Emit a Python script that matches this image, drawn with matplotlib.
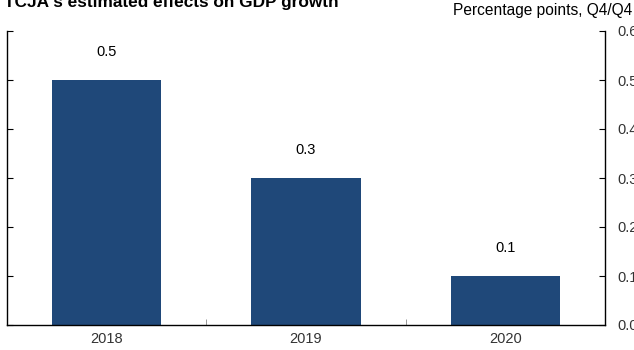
import matplotlib.pyplot as plt
import numpy as np

plt.rcParams['font.family'] = ['Liberation Sans', 'DejaVu Sans']

years = ['2018', '2019', '2020']
effects = [0.5, 0.3, 0.1]
y_ticks = [0.0, 0.1, 0.2, 0.3, 0.4, 0.5, 0.6]

bar_color = '#1f4879'
text_color = '#333333'

fig = plt.figure(figsize=(6.34, 3.5), dpi=100)
ax = fig.add_axes([7 / 634, 25 / 350, 598 / 634, 294 / 350])

x = np.arange(len(years))
bars = ax.bar(x, effects, width=0.55, color=bar_color, zorder=2)

for xi, v in zip(x, effects):
    ax.annotate(f'{v:.1f}', (xi, v), xytext=(0, 20), textcoords='offset points',
                ha='center', va='center', fontsize=10.5, color='black')

ax.set_xlim(-0.5, 2.5)
ax.set_ylim(0, 0.6)

# category labels at centres, small ticks between categories
ax.set_xticks(x)
ax.set_xticklabels(years, fontsize=10.5, color=text_color)
ax.tick_params(axis='x', which='major', length=0, pad=5)
ax.set_xticks([0.5, 1.5], minor=True)
ax.tick_params(axis='x', which='minor', direction='in', length=4, color='#888888')

ax.set_yticks(y_ticks)
ax.set_yticklabels([f'{t:.1f}' for t in y_ticks], fontsize=10.5, color=text_color)
ax.yaxis.tick_right()
ax.tick_params(axis='y', which='both', direction='in', length=4, pad=9,
               left=True, right=True, labelleft=False, labelright=True)

ax.spines['top'].set_visible(False)
for s in ['left', 'right', 'bottom']:
    ax.spines[s].set_linewidth(1.0)
    ax.spines[s].set_color('black')

fig.text(4 / 634, 1.0 - 2 / 350, "TCJA's estimated effects on GDP growth", ha='left', va='center',
         fontsize=12.4, fontweight='bold', color='black')
fig.text(632 / 634, 1.0 - 11 / 350, 'Percentage points, Q4/Q4', ha='right', va='center',
         fontsize=11.2, color='black')

fig.savefig('out.png', dpi=100)
